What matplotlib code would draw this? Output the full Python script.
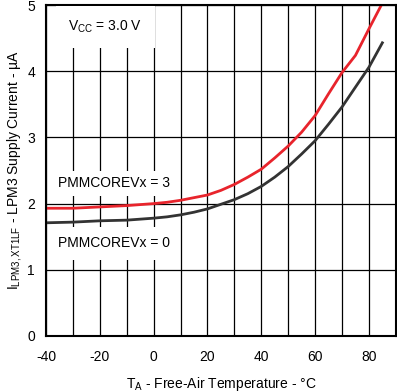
import numpy as np
import matplotlib
matplotlib.use('Agg')
import matplotlib.pyplot as plt

plt.rcParams['font.family'] = ['Liberation Sans', 'DejaVu Sans']
plt.rcParams['mathtext.fontset'] = 'custom'
plt.rcParams['mathtext.rm'] = 'Liberation Sans'
plt.rcParams['mathtext.it'] = 'Liberation Sans'
plt.rcParams['mathtext.default'] = 'regular'
plt.rcParams['axes.unicode_minus'] = False

# 온도 (°C) 와 전류 (µA) - 그림에서 읽은 값
temp = [-40, -30, -20, -10, 0, 5, 10, 15, 20, 25, 30, 35, 40, 45, 50, 55, 60, 65, 70, 75, 80, 85]
i_core0 = [1.71, 1.72, 1.74, 1.75, 1.78, 1.80, 1.83, 1.87, 1.92, 1.99, 2.06, 2.15, 2.26, 2.40,
           2.56, 2.75, 2.95, 3.20, 3.46, 3.76, 4.06, 4.43]
i_core3 = [1.93, 1.93, 1.95, 1.97, 2.00, 2.02, 2.05, 2.09, 2.13, 2.20, 2.29, 2.40, 2.52, 2.69,
           2.87, 3.08, 3.33, 3.66, 3.98, 4.24, 4.64, 5.03]

x_ticks = [-40, -20, 0, 20, 40, 60, 80]
y_ticks = [0, 1, 2, 3, 4, 5]

fig = plt.figure(figsize=(3.97, 3.92), dpi=100)
ax = fig.add_axes([0.116, 0.143, 0.881, 0.844])

ax.plot(temp, i_core0, color='#333333', lw=2.0, zorder=2)
ax.plot(temp, i_core3, color='#e8242c', lw=2.0, zorder=2)

ax.set_xlim(-40, 90)
ax.set_ylim(0, 5)
ax.set_xticks(x_ticks)
ax.set_xticks(np.arange(-30, 90, 20), minor=True)
ax.set_yticks(y_ticks)
ax.grid(True, which='both', color='black', lw=0.9)
ax.set_axisbelow(True)
ax.tick_params(which='both', length=0, labelsize=10)
ax.tick_params(axis='x', pad=10)
ax.tick_params(axis='y', pad=8)
for s in ax.spines.values():
    s.set_linewidth(1.5)

ax.text(-31.8, 4.67, r'V$_{CC}$ = 3.0 V', fontsize=10, va='center', ha='left',
        bbox=dict(facecolor='white', edgecolor='none', pad=9), zorder=3)
ax.text(-35.5, 2.31, 'PMMCOREVx = 3', fontsize=10, va='center', ha='left',
        bbox=dict(facecolor='white', edgecolor='none', pad=4), zorder=3)
ax.text(-35.5, 1.40, 'PMMCOREVx = 0', fontsize=10, va='center', ha='left',
        bbox=dict(facecolor='white', edgecolor='none', pad=7), zorder=3)

ax.set_xlabel(r'T$_A$ - Free-Air Temperature - °C', fontsize=10, labelpad=8)
ax.set_ylabel(r'I$_{LPM3,XT1LF}$ - LPM3 Supply Current - µA', fontsize=10, labelpad=2)

fig.savefig('out.png', dpi=100)
